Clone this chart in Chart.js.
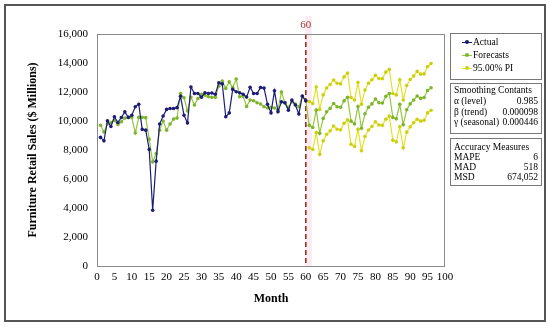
<!DOCTYPE html>
<html>
<head>
<meta charset="utf-8">
<script src="https://cdn.jsdelivr.net/npm/chart.js@4.4.1/dist/chart.umd.min.js"></script>
<style>
  html, body { margin: 0; padding: 0; background: #fff; }
  #wrap { position: relative; width: 550px; height: 328px; font-family: "Liberation Serif", "Times New Roman", serif; color: #000; }
  #frame { position: absolute; left: 4px; top: 4px; width: 538px; height: 314px; border: 2px solid #555; }
  canvas { position: absolute; left: 0; top: 0; }
  .box { position: absolute; left: 450px; width: 92px; border: 1px solid #777; box-sizing: border-box; font-size: 9.5px; }
  .row { position: absolute; left: 3px; right: 3px; height: 11px; line-height: 11px; white-space: nowrap; }
  .row .v { position: absolute; right: 0; top: 0; }
  .lg { position: absolute; left: 22px; height: 11px; line-height: 11px; }
  .mk { position: absolute; left: -11px; top: 5px; width: 10px; height: 1px; }
  .mk i { position: absolute; left: 3px; top: -2px; width: 4px; height: 4px; border-radius: 50%; }
</style>
</head>
<body>
<div id="wrap">
  <canvas id="myChart" width="550" height="328"></canvas>
  <div id="frame"></div>
  <div class="box" style="top:33px;height:47px;">
    <div class="lg" style="top:3px"><span class="mk" style="background:#1c1c78"><i style="background:#1c1c78"></i></span>Actual</div>
    <div class="lg" style="top:16px"><span class="mk" style="background:#93c83c"><i style="background:#7db52e"></i></span>Forecasts</div>
    <div class="lg" style="top:29px"><span class="mk" style="background:#e2e22a"><i style="background:#cfcf10"></i></span>95.00% PI</div>
  </div>
  <div class="box" style="top:83px;height:51px;">
    <div class="row" style="top:1px">Smoothing Contants</div>
    <div class="row" style="top:12px">α (level)<span class="v">0.985</span></div>
    <div class="row" style="top:23px">β (trend)<span class="v">0.000098</span></div>
    <div class="row" style="top:33px">γ (seasonal)<span class="v">0.000446</span></div>
  </div>
  <div class="box" style="top:138px;height:48px;">
    <div class="row" style="top:3px">Accuracy Measures</div>
    <div class="row" style="top:13px">MAPE<span class="v">6</span></div>
    <div class="row" style="top:23px">MAD<span class="v">518</span></div>
    <div class="row" style="top:33px">MSD<span class="v">674,052</span></div>
  </div>
</div>
<script>
// months 1-60: actual sales and fitted values
const actual = [
  8870, 8630, 10010, 9620, 10290, 9900, 10240, 10630, 10250, 10400,
  10980, 11150, 9420, 9370, 8040, 3850, 7230, 9790, 10340, 10800,
  10860, 10860, 10920, 11700, 10400, 9870, 12350, 11900, 11900, 11640,
  11940, 11900, 11930, 11850, 12630, 12560, 10290, 10560, 12180, 12020,
  11950, 11840, 11650, 12330, 11900, 11900, 12310, 12270, 11150, 10560,
  12080, 10640, 11320, 11260, 10750, 11440, 11100, 10480, 11720, 11390
];
const fitted = [
  9710, 9250, 9790, 9900, 10030, 9760, 9950, 10200, 10250, 10250,
  9180, 10250, 10250, 10230, 8750, 7180, 7760, 9370, 10000, 9370,
  9790, 10130, 10200, 11900, 11600, 10700, 11650, 11100, 11550, 11850,
  11780, 11670, 11630, 11630, 12400, 12750, 12250, 12700, 12300, 12900,
  11670, 11700, 11000, 11450, 11400, 11260, 11170, 10980, 10900, 10950,
  10900, 10750, 12000, 11250, 10940, 11320, 11170, 10980, 11700, 11400
];
// months 61-96: forecasts and 95% prediction interval
const forecast = [
  9700, 9550, 10750, 9150, 10180, 10630, 10870, 11210, 10980, 10940, 11390, 11630,
  9990, 9800, 11000, 9500, 10500, 10950, 11180, 11520, 11260, 11240, 11700, 11900,
  10250, 10150, 11150, 9750, 10780, 11180, 11450, 11720, 11560, 11620, 12100, 12290
];
const upperPI = [
  11350, 11200, 12350, 10800, 11800, 12280, 12520, 12830, 12600, 12560, 13040, 13300,
  11620, 11450, 12650, 11150, 12130, 12600, 12850, 13150, 12930, 12920, 13370, 13560,
  11900, 11800, 12850, 11450, 12450, 12860, 13100, 13420, 13230, 13250, 13760, 13960
];
const lowerPI = [
  8150, 8030, 9200, 7700, 8630, 9080, 9320, 9660, 9430, 9390, 9840, 10080,
  8400, 8250, 9420, 7950, 8930, 9380, 9620, 9950, 9720, 9700, 10120, 10340,
  8680, 8560, 9600, 8150, 9230, 9600, 9880, 10120, 9990, 10050, 10560, 10740
];
const firstMonth = 1;
const splitMonth = 60;

const toPoints = (vals, start) => vals.map((v, i) => ({ x: start + i, y: v }));

const serif = '"Liberation Serif", "Times New Roman", serif';

const splitLine = {
  id: "splitLine",
  beforeDatasetsDraw(chart) {
    const { ctx, chartArea: a, scales } = chart;
    const px = scales.x.getPixelForValue(splitMonth);
    ctx.save();
    ctx.fillStyle = "rgba(250,222,234,0.6)";
    ctx.fillRect(px - 1, 16, 7, a.bottom - 16);
    ctx.strokeStyle = "#8e3418";
    ctx.lineWidth = 1.6;
    ctx.setLineDash([5, 3]);
    ctx.beginPath();
    ctx.moveTo(px, a.top);
    ctx.lineTo(px, a.bottom);
    ctx.stroke();
    ctx.setLineDash([]);
    ctx.fillStyle = "#9a3b2a";
    ctx.font = "11px " + serif;
    ctx.textAlign = "center";
    ctx.textBaseline = "middle";
    ctx.fillText(String(splitMonth), px, 25);
    ctx.restore();
  },
  afterDraw(chart) {
    const { ctx, chartArea: a } = chart;
    ctx.save();
    ctx.strokeStyle = "#8a8a8a";
    ctx.lineWidth = 1;
    ctx.strokeRect(a.left + 0.5, a.top + 0.5, a.right - a.left - 1, a.bottom - a.top);
    ctx.restore();
  }
};

const line = (label, data, color, pointColor) => ({
  label: label,
  data: data,
  borderColor: color,
  backgroundColor: pointColor,
  borderWidth: 1.2,
  pointRadius: 1.8,
  pointBorderWidth: 0,
  pointBackgroundColor: pointColor,
  tension: 0
});

new Chart(document.getElementById("myChart"), {
  type: "line",
  data: {
    datasets: [
      line("Actual", toPoints(actual, firstMonth), "#1c1c78", "#1c1c78"),
      line("Forecasts", toPoints(fitted.concat(forecast), firstMonth), "#93c83c", "#7db52e"),
      line("95.00% PI", toPoints(upperPI, splitMonth + 1), "#e2e22a", "#cfcf10"),
      line("95.00% PI lower", toPoints(lowerPI, splitMonth + 1), "#e2e22a", "#cfcf10")
    ]
  },
  options: {
    responsive: false,
    animation: false,
    layout: { padding: { top: 34, right: 105, left: 0, bottom: 0 } },
    plugins: { legend: { display: false }, tooltip: { enabled: false } },
    scales: {
      x: {
        type: "linear",
        min: 0,
        max: 100,
        afterFit: (s) => { s.height = 62; },
        grid: { display: false, drawTicks: false },
        border: { display: false },
        ticks: {
          stepSize: 5, padding: 5, color: "#000", autoSkip: false,
          maxRotation: 0, minRotation: 0,
          font: { family: serif, size: 11 }
        },
        title: { display: true, text: "Month", color: "#000", font: { family: serif, size: 12, weight: "bold" }, padding: { bottom: 22 } }
      },
      y: {
        min: 0,
        max: 16000,
        afterFit: (s) => { s.width = 97; },
        grid: { display: false, drawTicks: false },
        border: { display: false },
        ticks: {
          stepSize: 2000,
          padding: 9,
          color: "#000",
          font: { family: serif, size: 11 },
          callback: (v) => v.toLocaleString("en-US")
        },
        title: { display: true, text: "Furniture Retail Sales ($ Millions)", color: "#000", font: { family: serif, size: 12, weight: "bold" }, padding: { top: 26 } }
      }
    }
  },
  plugins: [splitLine]
});
</script>
</body>
</html>
